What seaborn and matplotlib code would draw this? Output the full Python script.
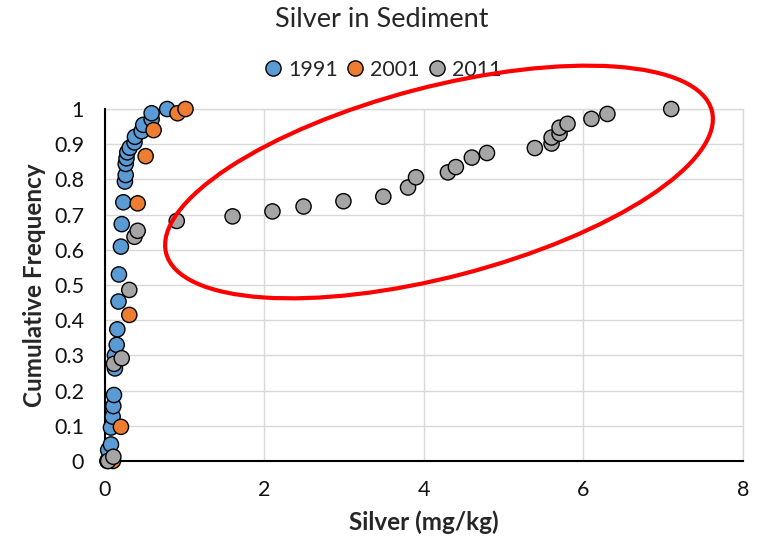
import pandas as pd
import seaborn as sns
import matplotlib.pyplot as plt
from matplotlib.patches import Ellipse
from matplotlib.transforms import Affine2D

# Значения
silver_1991 = [0.03, 0.04, 0.075, 0.075, 0.096, 0.105, 0.113, 0.125, 0.125, 0.147, 0.155, 0.17,
               0.175, 0.20, 0.21, 0.23, 0.25, 0.26, 0.26, 0.27, 0.28, 0.31, 0.37, 0.376, 0.46,
               0.48, 0.585, 0.585, 0.78]
freq_1991 = [0.0, 0.031, 0.047, 0.095, 0.126, 0.156, 0.1875, 0.263, 0.30, 0.33, 0.374, 0.453,
             0.53, 0.609, 0.673, 0.735, 0.794, 0.8125, 0.844, 0.86, 0.877, 0.89, 0.905, 0.921,
             0.937, 0.955, 0.971, 0.988, 1.0]

silver_2001 = [0.1, 0.2, 0.305, 0.41, 0.51, 0.61, 0.91, 1.01]
freq_2001 = [0.0, 0.097, 0.415, 0.732, 0.866, 0.94, 0.988, 1.0]

silver_2011 = [0.04, 0.105, 0.113, 0.21, 0.305, 0.37, 0.41, 0.90, 1.60, 2.10, 2.49, 2.99, 3.49,
               3.80, 3.90, 4.30, 4.40, 4.60, 4.79, 5.39, 5.60, 5.60, 5.70, 5.70, 5.80, 6.10,
               6.30, 7.10]
freq_2011 = [0.0, 0.012, 0.276, 0.292, 0.486, 0.637, 0.654, 0.682, 0.695, 0.709, 0.723, 0.738,
             0.751, 0.777, 0.806, 0.820, 0.835, 0.862, 0.875, 0.889, 0.902, 0.919, 0.930, 0.947,
             0.958, 0.972, 0.986, 1.0]

years = ['1991', '2001', '2011']
colors = ['#5B9BD5', '#ED7D31', '#A5A5A5']
x_ticks = [0, 2, 4, 6, 8]
y_ticks = [i / 10 for i in range(11)]

df = pd.concat([
    pd.DataFrame({'Silver': silver_1991, 'Freq': freq_1991, 'Year': '1991'}),
    pd.DataFrame({'Silver': silver_2001, 'Freq': freq_2001, 'Year': '2001'}),
    pd.DataFrame({'Silver': silver_2011, 'Freq': freq_2011, 'Year': '2011'}),
], ignore_index=True)

sns.set_theme(style="white")
plt.rcParams['font.family'] = ['Lato', 'DejaVu Sans']

fig = plt.figure(figsize=(7.64, 5.44), dpi=100)
ax = fig.add_axes([0.1374, 0.1526, 0.8351, 0.647])

sns.scatterplot(data=df, x='Silver', y='Freq', hue='Year', hue_order=years,
                palette=colors, s=120, edgecolor='black', linewidth=1,
                clip_on=False, zorder=3, ax=ax)

ax.set_xlim(0, 8)
ax.set_ylim(0, 1)
ax.set_xticks(x_ticks)
ax.set_yticks(y_ticks)
ax.set_yticklabels(['0' if t == 0 else ('1' if t == 1 else f'{t:.1f}') for t in y_ticks])
ax.tick_params(length=0, labelsize=15.5, colors='#111111')
ax.tick_params(axis='x', pad=14)
ax.tick_params(axis='y', pad=15)

# Сетка
ax.grid(True, color='#D9D9D9', linewidth=1)
ax.set_axisbelow(True)
for side in ['top', 'right']:
    ax.spines[side].set_visible(False)
for side in ['left', 'bottom']:
    ax.spines[side].set_color('black')
    ax.spines[side].set_linewidth(1.5)
ax.axvline(8, color='#D9D9D9', linewidth=1, zorder=0, clip_on=False)
ax.axhline(1, color='#D9D9D9', linewidth=1, zorder=0, clip_on=False)

ax.set_xlabel('Silver (mg/kg)', fontsize=17.5, fontweight='bold', labelpad=7)
ax.set_ylabel('Cumulative Frequency', fontsize=17.5, fontweight='bold', labelpad=6)
fig.suptitle('Silver in Sediment', fontsize=19.5, y=0.988)

# Легенда
ax.legend(loc='center', bbox_to_anchor=(0.435, 1.111), ncol=3, frameon=False,
          fontsize=15.5, handlelength=0.9, handletextpad=0.25, columnspacing=0.35,
          markerscale=1.0, borderpad=0.2)

# Красный эллипс (пометка поверх графика, в пикселях)
ell = Ellipse((0, 0), width=564, height=190, angle=14.65, fill=False,
              edgecolor='red', linewidth=3, zorder=5,
              transform=Affine2D().translate(439, 544 - 182))
fig.patches.append(ell)
ell.set_figure(fig)

fig.savefig('out.png', dpi=100)
